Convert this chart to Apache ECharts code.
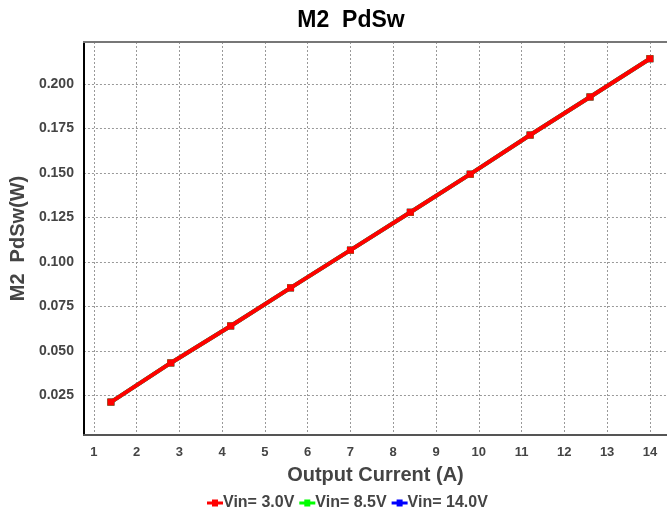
<!DOCTYPE html>
<html>
<head>
<meta charset="utf-8">
<script src="https://cdn.jsdelivr.net/npm/echarts@6/dist/echarts.min.js"></script>
<style>
html,body{margin:0;padding:0;background:#fff;}
#chart{width:667px;height:511px;}
</style>
</head>
<body>
<div id="chart"></div>
<script>
// Output current (A) sample points
const current = [1.4, 2.8, 4.2, 5.6, 7.0, 8.4, 9.8, 11.2, 12.6, 14.0];
// M2 switching loss (W) for each input voltage; the curves coincide
const pdsw30 = [0.0212, 0.0432, 0.0640, 0.0854, 0.1066, 0.1279, 0.1493, 0.1713, 0.1927, 0.2142];
const pdsw85 = [0.0212, 0.0432, 0.0640, 0.0854, 0.1066, 0.1279, 0.1493, 0.1713, 0.1927, 0.2142];
const pdsw140 = [0.0212, 0.0432, 0.0640, 0.0854, 0.1066, 0.1279, 0.1493, 0.1713, 0.1927, 0.2142];
const seriesNames = ['Vin= 3.0V', 'Vin= 8.5V', 'Vin= 14.0V'];
const seriesColors = ['#ff0000', '#00ff00', '#0000ff'];
const xTicks = [1, 2, 3, 4, 5, 6, 7, 8, 9, 10, 11, 12, 13, 14];
const yTicks = [0.025, 0.050, 0.075, 0.100, 0.125, 0.150, 0.175, 0.200];

const FONT = '"Liberation Sans", Arial, sans-serif';
const pair = (ys) => current.map((x, i) => [x, ys[i]]);
const seriesData = [pdsw30, pdsw85, pdsw140];

// draw the blue curve first so red ends up on top
const series = [2, 1, 0].map(k => ({
  name: seriesNames[k],
  type: 'line',
  data: pair(seriesData[k]),
  symbol: 'rect',
  symbolSize: 7,
  lineStyle: {width: 4, color: seriesColors[k]},
  itemStyle: {color: seriesColors[k]},
  z: 10 - k,
  animation: false
}));

const chart = echarts.init(document.getElementById('chart'), null, {renderer: 'canvas'});
chart.setOption({
  backgroundColor: '#fff',
  animation: false,
  title: {
    text: 'M2  PdSw',
    left: 346, top: 4, textAlign: 'center',
    textStyle: {fontFamily: FONT, fontSize: 23, fontWeight: 'bold', color: '#000'}
  },
  legend: {
    data: seriesNames,
    bottom: -5,
    left: 202,
    itemGap: 5,
    itemWidth: 16,
    itemHeight: 7,
    textStyle: {fontFamily: FONT, fontSize: 16, fontWeight: 'bold', color: '#444', padding: [0, 0, 0, -5]},
    icon: 'path://M0,2 L16,2 L16,5 L0,5 Z M5,0 L11,0 L11,7 L5,7 Z'
  },
  grid: {left: 83, right: 0, top: 42, bottom: 76, containLabel: false},
  xAxis: {
    type: 'value',
    min: 0.77, max: 14.4,
    name: 'Output Current (A)',
    nameLocation: 'middle',
    nameGap: 30,
    nameTextStyle: {fontFamily: FONT, fontSize: 20, fontWeight: 'bold', color: '#444'},
    axisLine: {onZero: false, lineStyle: {color: '#555', width: 2}},
    axisTick: {show: false, customValues: xTicks},
    axisLabel: {customValues: xTicks, fontFamily: FONT, fontSize: 13, fontWeight: 'bold', color: '#444', margin: 11},
    splitLine: {show: true, lineStyle: {color: '#999', type: [2, 2], width: 1}}
  },
  yAxis: {
    type: 'value',
    min: 0.0027, max: 0.2236,
    name: 'M2  PdSw(W)',
    nameLocation: 'middle',
    nameGap: 52,
    nameTextStyle: {fontFamily: FONT, fontSize: 20, fontWeight: 'bold', color: '#444'},
    axisLine: {onZero: false, lineStyle: {color: '#000', width: 2}},
    axisTick: {show: false, customValues: yTicks},
    axisLabel: {customValues: yTicks, fontFamily: FONT, fontSize: 14, fontWeight: 'bold', color: '#444', margin: 10,
      formatter: v => v.toFixed(3)},
    splitLine: {show: true, lineStyle: {color: '#999', type: [2, 2], width: 1}}
  },
  graphic: [{
    type: 'line', z: 5,
    shape: {x1: 83, y1: 42, x2: 667, y2: 42},
    style: {stroke: '#777', lineWidth: 2}
  }],
  series: series
});
</script>
</body>
</html>
